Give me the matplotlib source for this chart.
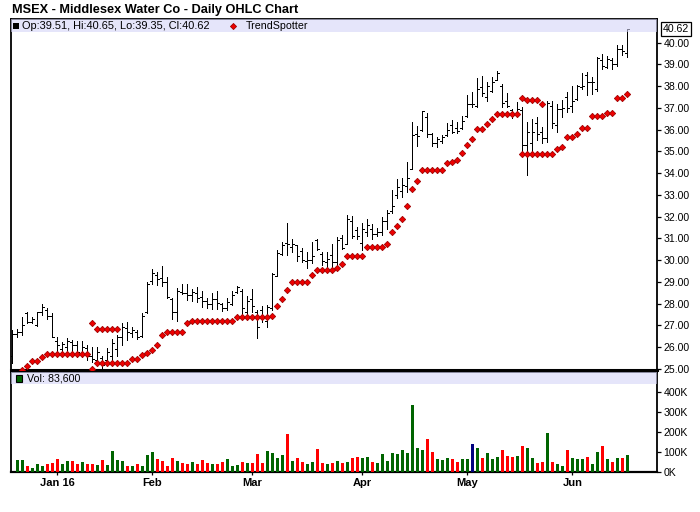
import numpy as np
import matplotlib
matplotlib.use('Agg')
import matplotlib.pyplot as plt
from matplotlib.patches import Rectangle
from matplotlib.lines import Line2D
import matplotlib.transforms as mtransforms

plt.rcParams['font.family'] = ['Liberation Sans', 'DejaVu Sans']

nan = np.nan

# ---------------- data ----------------
title = "MSEX - Middlesex Water Co - Daily OHLC Chart"
legend_ohlc = "Op:39.51, Hi:40.65, Lo:39.35, Cl:40.62"
legend_ts = "TrendSpotter"
legend_vol = "Vol: 83,600"
last_price = 40.62

month_labels = ["Jan 16", "Feb", "Mar", "Apr", "May", "Jun"]
month_bar_index = [9, 28, 48, 70, 91, 112]

highs = [26.79,26.82,27.40,27.63,27.40,27.63,27.99,27.80,27.56,26.48,
         26.26,26.41,26.33,26.30,26.30,26.10,26.02,26.02,25.60,25.95,
         26.36,26.56,27.13,27.17,26.91,26.79,27.56,28.98,29.58,29.47,
         29.73,29.21,28.28,28.71,28.89,28.89,28.66,28.75,28.60,28.25,
         28.51,28.60,28.02,28.25,28.60,28.81,28.68,28.35,28.66,27.71,
         27.89,27.94,29.43,30.47,30.85,31.70,30.96,30.70,30.55,30.39,
         30.85,30.96,30.39,30.39,30.75,31.08,31.16,32.08,32.03,31.54,
         31.70,31.88,31.67,31.47,32.00,32.31,33.23,33.72,33.77,34.53,
         36.37,36.17,36.88,36.78,35.83,35.65,35.76,36.32,36.45,36.37,
         36.63,37.60,37.75,38.36,38.47,38.21,38.41,38.70,38.10,37.67,
         36.94,37.29,37.03,36.37,36.48,36.57,36.14,37.32,37.32,37.17,
         37.37,37.75,38.03,38.06,38.59,38.64,38.44,39.36,39.47,39.40,
         39.28,39.89,39.89,40.65]

lows = [25.26,26.48,26.56,27.10,27.10,26.98,27.50,27.28,26.45,25.60,
        25.69,25.87,25.83,25.56,25.53,25.41,25.34,25.18,24.92,25.34,
        25.34,25.60,26.10,26.33,26.45,26.36,26.45,27.56,28.89,28.86,
        28.81,28.28,27.28,27.22,28.43,28.17,28.14,28.09,27.83,27.79,
        27.74,27.74,27.66,27.71,27.94,28.51,27.48,27.48,27.63,26.41,
        27.17,26.94,27.71,29.27,30.24,30.24,30.39,29.98,29.93,29.63,
        29.86,30.47,29.78,29.58,29.70,29.78,30.50,30.75,31.00,30.96,
        30.47,31.11,30.96,31.11,31.16,31.42,32.15,32.84,32.92,33.15,
        34.18,35.25,35.96,35.68,35.26,35.19,35.37,35.71,35.83,35.86,
        36.02,36.60,37.06,37.03,37.55,37.33,37.75,38.29,37.06,37.03,
        36.52,36.63,34.84,33.92,34.94,35.53,35.40,35.45,36.06,35.91,
        36.60,36.83,36.83,37.37,37.87,37.60,37.63,37.78,38.78,38.82,
        38.79,38.94,39.43,39.35]

opens = [25.60,26.60,26.70,27.56,27.15,27.00,27.63,27.70,27.45,26.30,
         25.90,26.00,26.26,26.10,25.70,25.95,25.60,25.40,25.50,25.40,
         25.60,25.90,26.45,26.87,26.67,26.70,26.50,27.62,29.04,29.30,
         29.17,29.01,28.20,27.63,28.55,28.51,28.40,28.50,28.32,28.14,
         28.00,28.20,27.97,27.80,28.00,28.55,28.60,27.60,28.20,27.60,
         27.70,27.20,27.80,29.27,30.30,30.80,30.60,30.70,30.40,29.95,
         30.00,30.93,30.30,29.90,30.25,29.90,31.00,30.75,31.80,31.40,
         30.80,31.30,31.45,31.20,31.30,31.80,32.25,33.00,33.20,33.40,
         34.20,35.80,36.00,36.60,35.80,35.40,35.50,35.75,36.20,36.10,
         36.10,36.65,37.20,37.10,37.95,37.50,37.80,38.30,38.00,37.30,
         36.90,36.70,36.90,35.30,35.40,36.30,35.90,35.60,37.10,36.20,
         36.95,37.50,37.10,37.40,37.95,38.50,38.20,37.85,39.20,38.90,
         39.20,39.00,39.70,39.51]

closes = [26.60,26.72,27.00,27.15,27.30,27.60,27.85,27.45,26.48,26.10,
          26.15,26.30,26.10,25.80,26.00,25.60,25.45,25.80,25.20,25.80,
          26.20,26.45,26.95,26.70,26.80,26.45,27.43,28.90,29.40,29.12,
          29.00,28.30,27.63,28.60,28.50,28.40,28.55,28.28,28.10,28.00,
          28.20,28.02,27.80,28.09,28.40,28.75,27.80,28.10,27.90,26.95,
          27.40,27.85,29.35,30.35,30.70,30.75,30.75,30.20,30.00,30.00,
          30.20,30.50,29.95,30.05,29.90,30.95,30.55,31.90,31.10,31.10,
          31.45,31.60,31.20,31.30,31.80,32.15,32.50,33.35,33.45,33.80,
          35.75,35.70,36.85,35.80,35.40,35.55,35.65,36.00,35.90,35.95,
          36.40,37.20,37.20,37.85,37.70,38.00,38.20,38.60,37.25,37.10,
          36.70,36.95,35.30,35.90,35.90,35.80,35.60,37.25,36.30,36.95,
          37.00,37.00,37.30,38.00,38.00,38.20,38.20,39.30,38.95,39.25,
          39.00,39.70,39.60,40.62]

ts_lower = [nan,nan,24.95,25.14,25.37,25.37,25.53,25.69,25.69,25.69,
            25.69,25.69,25.69,25.69,25.69,25.69,25.00,25.27,25.27,25.27,
            25.27,25.27,25.27,25.27,25.45,25.45,25.64,25.72,25.87,26.08,
            26.55,26.70,26.70,26.70,26.70,27.12,27.20,27.20,27.20,27.20,
            27.20,27.20,27.20,27.20,27.20,27.37,27.37,27.37,27.37,27.37,
            27.37,27.37,27.43,27.89,28.20,28.63,28.98,28.98,28.98,28.98,
            29.30,29.53,29.53,29.53,29.53,29.63,29.81,30.19,30.19,30.19,
            30.19,30.61,30.61,30.61,30.61,30.75,31.31,31.57,31.89,32.49,
            33.26,33.64,34.14,34.14,34.14,34.14,34.14,34.45,34.50,34.61,
            34.91,35.28,35.56,36.02,36.02,36.26,36.48,36.72,36.72,36.72,
            36.72,36.72,34.87,34.87,34.87,34.87,34.87,34.87,34.87,35.10,
            35.19,35.65,35.65,35.80,36.06,36.06,36.62,36.62,36.62,36.75,
            36.75,37.44,37.44,37.63]

ts_upper_bars = [16, 17, 18, 19, 20, 21, 102, 103, 104, 105, 106]
ts_upper_vals = [27.10, 26.82, 26.82, 26.82, 26.82, 26.82, 37.44, 37.35, 37.35, 37.35, 37.17]

# volume in thousands (first bar hidden)
volume_k = [nan,58,58,28,18,37,28,37,43,63,
            37,53,53,38,48,38,38,33,58,33,
            103,58,53,28,28,37,28,83,98,63,
            53,28,68,53,43,38,48,38,58,43,
            38,38,48,63,28,33,48,43,43,88,
            43,103,93,68,83,188,53,68,48,38,
            48,113,43,38,43,53,43,48,67,72,
            67,72,48,42,87,53,92,88,107,92,
            333,117,107,163,97,62,58,67,62,48,
            62,62,138,117,67,92,62,72,107,77,
            72,77,127,117,67,42,47,195,47,37,
            28,107,67,62,62,72,38,97,127,62,
            47,67,67,83.6]

vol_dir = list("GGGRGGGRRR"
               "GGRRGRRGRG"
               "GGGRGRGGGR"
               "RRRGRRGRRR"
               "GRRGGGRGRR"
               "RGGGGRGRRG"
               "GRRGRGRGRR"
               "GGRGGGGGGG"
               "GGGRRGGGRR"
               "GGNGRGGGRR"
               "RGRGGRRGRG"
               "GRGGGRGGRG"
               "RGRG")

price_ticks = [25, 26, 27, 28, 29, 30, 31, 32, 33, 34, 35, 36, 37, 38, 39, 40]
vol_ticks_k = [0, 100, 200, 300, 400]

# ---------------- layout ----------------
W, H = 700, 512
fig = plt.figure(figsize=(W / 100, H / 100), dpi=100)
fig.patch.set_facecolor('white')

def fx(px):
    return px / W

def fy(py):
    return 1 - py / H

XL, XR = 10.7, 657.3
P_TOP, P_BOT = 19.0, 370.0
V_TOP, V_BOT = 372.0, 471.5

ax = fig.add_axes([fx(XL), fy(P_BOT), fx(XR) - fx(XL), fy(P_TOP) - fy(P_BOT)])
axv = fig.add_axes([fx(XL), fy(V_BOT), fx(XR) - fx(XL), fy(V_TOP) - fy(V_BOT)])

n = len(highs)
x = np.arange(n)
xlim = (-0.32, 129.0)

# ---------------- price panel ----------------
bar_lw = 0.62
ax.vlines(x, lows, highs, color='black', lw=bar_lw, antialiased=False, zorder=3)
ax.hlines(opens, x - 0.42, x, color='black', lw=bar_lw, antialiased=False, zorder=3)
ax.hlines(closes, x, x + 0.42, color='black', lw=bar_lw, antialiased=False, zorder=3)

dot_kw = dict(ls='none', marker='D', ms=3.2, mfc='#ee0000', mec='#a00000', mew=0.6, zorder=4)
ax.plot(x, ts_lower, **dot_kw)
ax.plot(ts_upper_bars, ts_upper_vals, **dot_kw)

ax.set_xlim(*xlim)
ax.set_ylim(24.95, 41.09)
ax.set_xticks([])
ax.yaxis.tick_right()
ax.set_yticks(price_ticks)
ax.set_yticklabels([f"{v:.2f}" for v in price_ticks])
ax.tick_params(axis='y', direction='out', length=3, width=0.9, pad=1.5, labelsize=7.6, colors='black')
for s in ['left', 'top', 'right']:
    ax.spines[s].set_linewidth(1.3)
ax.spines['bottom'].set_linewidth(2.2)

# legend band (price)
band_h = 13.3 / (P_BOT - P_TOP)
ax.add_patch(Rectangle((0, 1 - band_h), 1, band_h, transform=ax.transAxes,
                       fc=(0.833, 0.833, 0.967), ec='none', alpha=0.6, zorder=6, clip_on=False))

# last price box
trans = mtransforms.blended_transform_factory(ax.transAxes, ax.transData)
ax.text(1.0 + 5.5 / (XR - XL), last_price, f"{last_price:.2f}", transform=trans,
        ha='left', va='center', fontsize=7.6, color='black', zorder=10, clip_on=False,
        bbox=dict(boxstyle='square,pad=0.18', fc='white', ec='black', lw=0.9))

# ---------------- volume panel ----------------
col_map = {'G': '#006400', 'R': '#ff0000', 'N': '#000080'}
vk = np.array(volume_k, dtype=float)
ok = ~np.isnan(vk)
axv.bar(x[ok], vk[ok], width=0.62, color=[col_map[c] for c, o in zip(vol_dir, ok) if o],
        linewidth=0, zorder=3)
axv.set_xlim(*xlim)
axv.set_ylim(0, 497.5)
axv.yaxis.tick_right()
axv.set_yticks(vol_ticks_k)
axv.set_yticklabels([f"{v}K" for v in vol_ticks_k])
axv.tick_params(axis='y', direction='out', length=3, width=0.9, pad=1.5, labelsize=7.6, colors='black')
axv.set_xticks(month_bar_index)
axv.set_xticklabels(month_labels, fontweight='bold', fontsize=8)
axv.tick_params(axis='x', direction='out', length=2.2, width=0.9, pad=2.5, colors='black')
for s in ['left', 'right', 'top']:
    axv.spines[s].set_linewidth(1.3)
axv.spines['bottom'].set_linewidth(1.6)

vband_h = 12.0 / (V_BOT - V_TOP)
axv.add_patch(Rectangle((0, 1 - vband_h), 1, vband_h, transform=axv.transAxes,
                        fc=(0.833, 0.833, 0.967), ec='none', alpha=0.6, zorder=6, clip_on=False))

# ---------------- texts ----------------
fig.text(fx(12), fy(13.4), title, fontsize=9.2, fontweight='bold', ha='left', va='baseline')

# price legend
fig.add_artist(Rectangle((fx(13.4), fy(29.0)), 5.6 / W, 5.6 / H, transform=fig.transFigure,
                         fc='black', ec='black', lw=0, zorder=20))
fig.text(fx(22.5), fy(26.0), legend_ohlc, fontsize=7.9, ha='left', va='center', zorder=20)
fig.add_artist(Line2D([fx(233.3)], [fy(26.0)], transform=fig.transFigure, ls='none', marker='D',
                      ms=3.1, mfc='#ee0000', mec='#a00000', mew=0.6, zorder=20))
fig.text(fx(245.5), fy(26.0), legend_ts, fontsize=7.7, ha='left', va='center', zorder=20)

# volume legend
fig.add_artist(Rectangle((fx(16.0), fy(381.6)), 6.2 / W, 6.2 / H, transform=fig.transFigure,
                         fc='#006400', ec='black', lw=0.8, zorder=20))
fig.text(fx(27.0), fy(378.3), legend_vol, fontsize=7.7, ha='left', va='center', zorder=20)

fig.savefig('out.png', dpi=100, facecolor='white')
